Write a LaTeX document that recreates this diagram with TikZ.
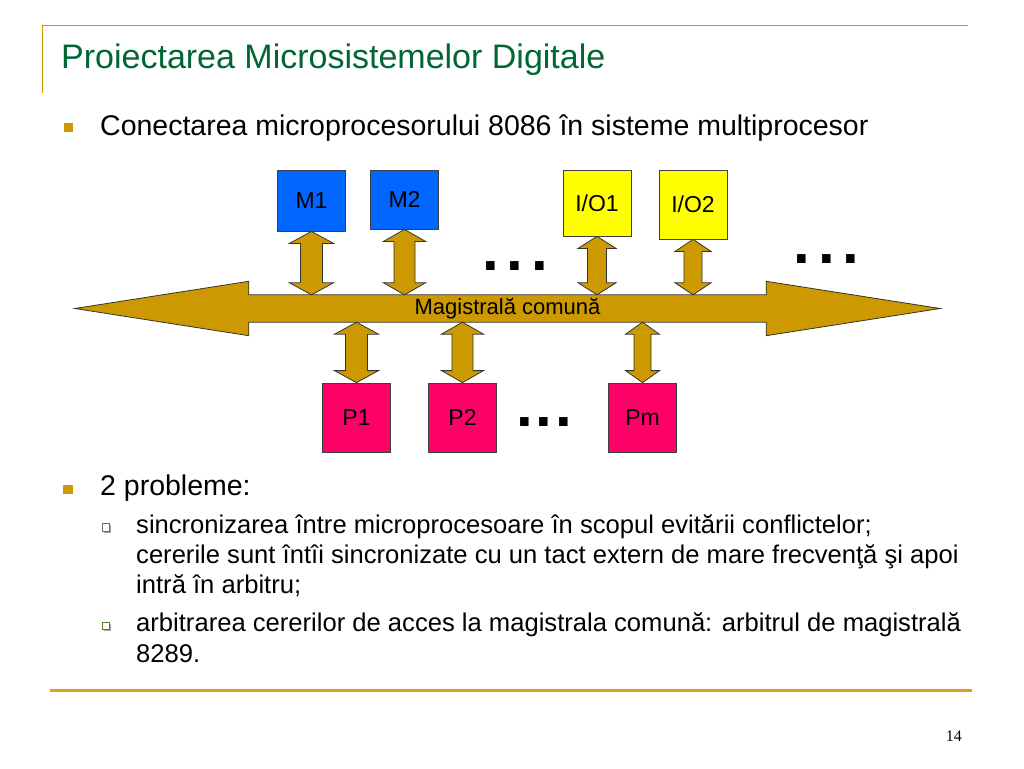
\documentclass[tikz,border=0pt]{standalone}
\usepackage{fontspec}
\setmainfont{Liberation Sans}
\newfontfamily\numfont{Liberation Serif}
\usetikzlibrary{calc,backgrounds}

\definecolor{slidegold}{RGB}{204,153,0}
\definecolor{lineorange}{RGB}{222,160,30}
\definecolor{titlegreen}{RGB}{0,102,51}
\definecolor{memblue}{RGB}{0,102,255}
\definecolor{ioyellow}{RGB}{255,255,0}
\definecolor{procpink}{RGB}{255,0,102}
\definecolor{busgold}{RGB}{204,153,0}
\definecolor{subgreen}{RGB}{80,128,50}

\tikzset{
  unitbox/.style={draw=black!75, line width=0.8, minimum width=68, inner sep=0, font=\fontsize{23}{27}\selectfont},
  membox/.style={unitbox, fill=memblue},
  iobox/.style={unitbox, fill=ioyellow},
  procbox/.style={unitbox, fill=procpink},
  busbody/.style={draw=black!80, line width=0.8, fill=busgold},
  slidetext/.style={anchor=base west, inner sep=0},
  maintext/.style={slidetext, font=\fontsize{28.5}{34}\selectfont},
  subtext/.style={slidetext, font=\fontsize{25.6}{30}\selectfont},
  dotgap/.style={anchor=base, inner sep=0, font=\fontsize{60}{60}\bfseries\selectfont},
}

% two-headed vertical link: #1 head half width, #2 upper end, #3 lower end
\newcommand{\vlink}[3][20]{%
  \draw[busbody] let \p1=(#2), \p2=(#3), \n1={#1}, \n2={#1/2} in
    (\p1) -- (\x1-\n1,\y1-12) -- (\x1-\n2,\y1-12) -- (\x1-\n2,\y2+12) -- (\x1-\n1,\y2+12) -- (\p2)
    -- (\x1+\n1,\y2+12) -- (\x1+\n2,\y2+12) -- (\x1+\n2,\y1-12) -- (\x1+\n1,\y1-12) -- cycle;}

\begin{document}
\begin{tikzpicture}[x=1pt,y=1pt]
\useasboundingbox (0,0) rectangle (1024,-768);
% slide frame
\draw[slidegold, line width=1.5] (42.5,-93) -- (42.5,-25.5) -- (968,-25.5);
\draw[lineorange, line width=3] (50,-690.5) -- (972,-690.5);
\node[slidetext, text=titlegreen, font=\fontsize{34}{40}\selectfont] (title) at (61,-68) {Proiectarea Microsistemelor Digitale};
\node[anchor=base east, inner sep=0, font=\numfont\fontsize{16}{18}\selectfont] (pagenum) at (962,-741) {14};

\fill[slidegold] (63.5,-122.5) rectangle ++(9.5,-9.5);
\node[maintext] (intro) at (100,-135) {Conectarea microprocesorului 8086 în sisteme multiprocesor};

% bus
\node[inner sep=0, minimum width=517, minimum height=27, font=\fontsize{22}{26}\selectfont] (bus) at (507.5,-308.5) {Magistrală comună};
\begin{scope}[on background layer]
\draw[busbody] (bus.north west) -- ++(0,13.5) -- ($(bus.west)+(-174,0)$) -- ($(bus.south west)+(0,-13.5)$) -- (bus.south west)
  -- (bus.south east) -- ++(0,-13.5) -- ($(bus.east)+(174,0)$) -- ($(bus.north east)+(0,13.5)$) -- (bus.north east) -- cycle;
\end{scope}

% units
\node[membox, minimum height=61] (M1) at (311.5,-200.5) {M1};
\node[membox, minimum height=59] (M2) at (404.5,-199.5) {M2};
\node[iobox, minimum height=66] (IO1) at (597,-203) {I/O1};
\node[iobox, minimum height=69] (IO2) at (693,-204.5) {I/O2};
\node[procbox, minimum height=69] (P1) at (356.5,-417.5) {P1};
\node[procbox, minimum height=69] (P2) at (462.5,-417.5) {P2};
\node[procbox, minimum height=69] (Pm) at (642.5,-417.5) {Pm};

\vlink[22]{M1.south}{M1.south |- bus.north}
\vlink[21]{M2.south}{M2.south |- bus.north}
\vlink[19]{IO1.south}{IO1.south |- bus.north}
\vlink[18]{IO2.south}{IO2.south |- bus.north}
\vlink[22]{P1.north |- bus.south}{P1.north}
\vlink[21]{P2.north |- bus.south}{P2.north}
\vlink[17]{Pm.north |- bus.south}{Pm.north}

\node[dotgap] (dotsmem) at (515,-270) {.\kern8pt.\kern8pt.};
\node[dotgap] (dotsio) at (826.5,-263) {.\kern8pt.\kern8pt.};
\node[dotgap] (dotsproc) at (544,-426) {.\kern3pt.\kern3pt.};

% problems
\fill[slidegold] (63,-484.5) rectangle ++(9.5,-9.5);
\node[maintext] (probl) at (100,-495) {2 probleme:};
\fill[black!35] (103.5,-525) rectangle ++(7.5,-7.5);
\draw[subgreen, fill=white, line width=1] (102,-523.5) rectangle ++(7.5,-7.5);
\node[subtext] (sync1) at (136,-533) {sincronizarea între microprocesoare în scopul evitării conflictelor;};
\node[subtext] (sync2) at (136,-563) {cererile sunt întîi sincronizate cu un tact extern de mare frecvenţă şi apoi};
\node[subtext] (sync3) at (136,-593) {intră în arbitru;};
\fill[black!35] (103.5,-623.5) rectangle ++(7.5,-7.5);
\draw[subgreen, fill=white, line width=1] (102,-622) rectangle ++(7.5,-7.5);
\node[subtext] (arb1) at (136,-631) {arbitrarea cererilor de acces la magistrala comună: arbitrul de magistrală};
\node[subtext] (arb2) at (136,-662) {8289.};
\end{tikzpicture}
\end{document}
